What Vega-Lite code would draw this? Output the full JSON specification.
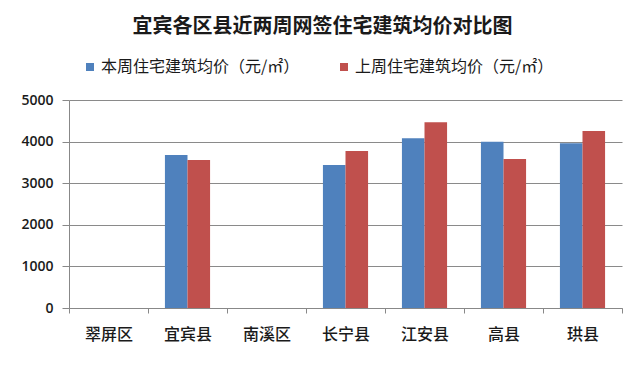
{
  "$schema": "https://vega.github.io/schema/vega-lite/v6.json",
  "autosize": "none",
  "width": 553,
  "height": 208,
  "padding": {"left": 69, "top": 100, "right": 18, "bottom": 57},
  "background": "white",
  "title": {
    "text": "宜宾各区县近两周网签住宅建筑均价对比图",
    "font": "Noto Sans CJK SC",
    "fontSize": 20,
    "fontWeight": "bold",
    "color": "#1a1a1a",
    "anchor": "middle",
    "dx": -23,
    "offset": 22
  },
  "data": {
    "values": [
      {"county": "翠屏区", "series": "本周住宅建筑均价（元/㎡）", "price": null},
      {"county": "翠屏区", "series": "上周住宅建筑均价（元/㎡）", "price": null},
      {"county": "宜宾县", "series": "本周住宅建筑均价（元/㎡）", "price": 3678},
      {"county": "宜宾县", "series": "上周住宅建筑均价（元/㎡）", "price": 3558},
      {"county": "南溪区", "series": "本周住宅建筑均价（元/㎡）", "price": null},
      {"county": "南溪区", "series": "上周住宅建筑均价（元/㎡）", "price": null},
      {"county": "长宁县", "series": "本周住宅建筑均价（元/㎡）", "price": 3438},
      {"county": "长宁县", "series": "上周住宅建筑均价（元/㎡）", "price": 3774},
      {"county": "江安县", "series": "本周住宅建筑均价（元/㎡）", "price": 4079},
      {"county": "江安县", "series": "上周住宅建筑均价（元/㎡）", "price": 4464},
      {"county": "高县", "series": "本周住宅建筑均价（元/㎡）", "price": 3998},
      {"county": "高县", "series": "上周住宅建筑均价（元/㎡）", "price": 3582},
      {"county": "珙县", "series": "本周住宅建筑均价（元/㎡）", "price": 3958},
      {"county": "珙县", "series": "上周住宅建筑均价（元/㎡）", "price": 4255}
    ]
  },
  "mark": {"type": "bar"},
  "encoding": {
    "x": {
      "field": "county",
      "type": "nominal",
      "scale": {
        "domain": ["翠屏区", "宜宾县", "南溪区", "长宁县", "江安县", "高县", "珙县"],
        "paddingInner": 0,
        "paddingOuter": 0
      },
      "axis": {
        "title": null,
        "labelAngle": 0,
        "labelFont": "Noto Sans CJK SC",
        "labelFontSize": 16,
        "labelFontWeight": 500,
        "labelColor": "#1a1a1a",
        "labelPadding": 13,
        "domainColor": "#888888",
        "tickColor": "#888888",
        "tickBand": "extent",
        "tickSize": 5
      }
    },
    "xOffset": {
      "field": "series",
      "type": "nominal",
      "scale": {
        "domain": ["本周住宅建筑均价（元/㎡）", "上周住宅建筑均价（元/㎡）"],
        "paddingInner": 0,
        "paddingOuter": 0.75
      }
    },
    "y": {
      "field": "price",
      "type": "quantitative",
      "scale": {"domain": [0, 5000], "nice": false},
      "axis": {
        "title": null,
        "values": [0, 1000, 2000, 3000, 4000, 5000],
        "format": "d",
        "labelFont": "Open Sans",
        "labelFontSize": 14,
        "labelFontWeight": 600,
        "labelColor": "#1a1a1a",
        "labelPadding": 9,
        "gridColor": "#8a8a8a",
        "gridOpacity": 1,
        "domainColor": "#888888",
        "tickColor": "#888888",
        "tickSize": 7
      }
    },
    "color": {
      "field": "series",
      "type": "nominal",
      "scale": {
        "domain": ["本周住宅建筑均价（元/㎡）", "上周住宅建筑均价（元/㎡）"],
        "range": ["#4F81BD", "#C0504D"]
      },
      "legend": {
        "title": null,
        "orient": "none",
        "direction": "horizontal",
        "legendX": 13,
        "legendY": -41,
        "symbolType": "square",
        "symbolSize": 64,
        "labelFont": "Noto Sans CJK SC",
        "labelFontSize": 16,
        "labelColor": "#1a1a1a",
        "labelOffset": 3,
        "columnPadding": 36,
        "labelLimit": 300
      }
    }
  },
  "config": {
    "view": {"stroke": null}
  }
}
